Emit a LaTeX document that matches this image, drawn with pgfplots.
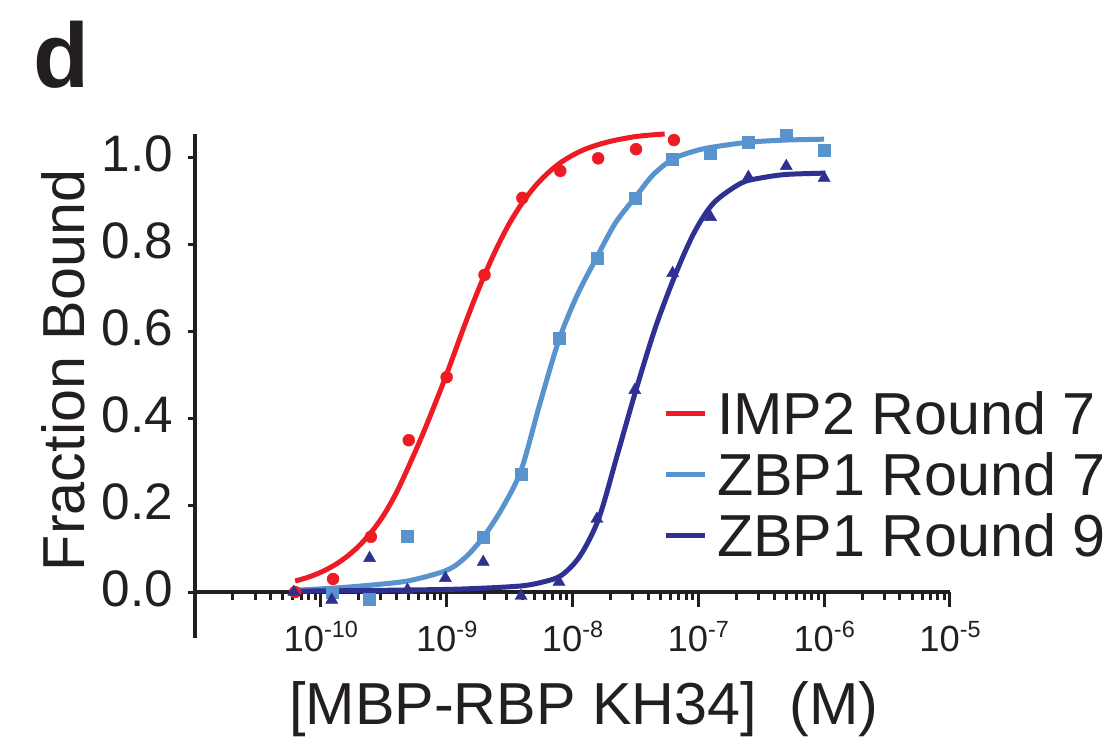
\documentclass[border=0pt]{standalone}
\usepackage{fontspec}
\setmainfont{Liberation Sans}
\usepackage{pgfplots}
\pgfplotsset{compat=1.18}
\definecolor{cred}{RGB}{237,28,36}
\definecolor{clight}{RGB}{88,147,205}
\definecolor{cdark}{RGB}{46,49,146}
\definecolor{ink}{RGB}{35,31,32}
\newcommand\xt[1]{10\raisebox{14bp}{\fontsize{23.5}{23.5}\selectfont #1}}

\begin{document}
\begin{tikzpicture}
\useasboundingbox (0,0) rectangle (1119bp,-737bp);
\node[anchor=base west, inner sep=0pt, font=\fontsize{92}{92}\selectfont\bfseries, text=ink] at (33bp,-87bp) {d};
\begin{axis}[
  at={(195bp,-637.7bp)}, anchor=south west,
  scale only axis, width=755bp, height=503.3bp,
  xmode=log, xmin=1e-11, xmax=1e-5,
  ymin=-0.105, ymax=1.052,
  clip=false,
  axis x line=middle, axis y line=left,
  axis line style={-, line width=3.6bp, color=ink},
  tick align=outside,
  tick style={line width=3bp, color=ink},
  major tick length=15bp, minor tick length=8bp,
  ytick style={/pgfplots/major tick length=7bp},
  xtick={1e-10,1e-9,1e-8,1e-7,1e-6,1e-5},
  xticklabels={\xt{-10},\xt{-9},\xt{-8},\xt{-7},\xt{-6},\xt{-5}},
  minor xtick={2e-11,3e-11,4e-11,5e-11,6e-11,7e-11,8e-11,9e-11,
    2e-10,3e-10,4e-10,5e-10,6e-10,7e-10,8e-10,9e-10,
    2e-9,3e-9,4e-9,5e-9,6e-9,7e-9,8e-9,9e-9,
    2e-8,3e-8,4e-8,5e-8,6e-8,7e-8,8e-8,9e-8,
    2e-7,3e-7,4e-7,5e-7,6e-7,7e-7,8e-7,9e-7,
    2e-6,3e-6,4e-6,5e-6,6e-6,7e-6,8e-6,9e-6},
  ytick={0,0.2,0.4,0.6,0.8,1},
  /pgf/number format/fixed, /pgf/number format/fixed zerofill,
  /pgf/number format/precision=1, /pgf/number format/assume math mode=true,
  yticklabel style={font=\fontsize{51.5}{51.5}\selectfont, text=ink, inner sep=0pt, anchor=east, xshift=-7bp, yshift=3.5bp},
  xticklabel style={font=\fontsize{36.5}{36.5}\selectfont, text=ink, inner sep=0pt, anchor=north, yshift=-14bp},
  hide obscured y ticks=false,
  xlabel={[MBP-RBP KH34]\ \ (M)},
  ylabel={Fraction Bound},
  every axis x label/.style={at={(axis description cs:0.5152,-0.1734)}, anchor=base, inner sep=0pt, font=\fontsize{59.5}{59.5}\selectfont, text=ink},
  every axis y label/.style={at={(axis description cs:-0.1744,0.5319)}, anchor=center, rotate=90, inner sep=0pt, font=\fontsize{59.5}{59.5}\selectfont, text=ink},
  legend style={at={(axis description cs:0.6199,0.4922)}, anchor=north west, draw=none, fill=none, inner sep=0pt, outer sep=0pt, row sep=16bp, column sep=10bp, font=\fontsize{59.5}{59.5}\selectfont, text=ink, nodes={inner sep=0pt, text height=45bp, text depth=0bp}},
  legend cell align=left,
  legend image code/.code={\draw[#1, line width=5bp] (0bp,-1bp) -- (39bp,-1bp);},
]
% fitted curves
\addplot[cred, line width=5bp, smooth, no markers] table {
x y
6.25e-11 0.0252
7.943e-11 0.0341
1e-10 0.0455
1.259e-10 0.0604
1.585e-10 0.0799
1.995e-10 0.105
2.512e-10 0.137
3.162e-10 0.177
3.981e-10 0.228
5.012e-10 0.290
6.310e-10 0.356
7.943e-10 0.427
1e-9 0.501
1.259e-9 0.580
1.585e-9 0.657
1.995e-9 0.728
2.512e-9 0.792
3.162e-9 0.848
3.981e-9 0.894
5.012e-9 0.932
6.310e-9 0.962
7.943e-9 0.986
1e-8 1.004
1.259e-8 1.018
1.585e-8 1.028
1.995e-8 1.036
2.512e-8 1.042
3.162e-8 1.047
3.981e-8 1.050
5.4e-8 1.053
};
\addlegendentry{IMP2 Round 7}
\addplot[clight, line width=5bp, smooth, no markers] table {
x y
6.104e-11 0.004
1.259e-10 0.009
2.512e-10 0.016
5.012e-10 0.026
1e-9 0.050
1.413e-9 0.080
1.953e-9 0.126
2.754e-9 0.192
3.906e-9 0.280
5.495e-9 0.432
7.813e-9 0.580
1.096e-8 0.684
1.563e-8 0.770
2.188e-8 0.848
3.125e-8 0.906
4.365e-8 0.959
6.25e-8 0.995
8.913e-8 1.012
1.25e-7 1.022
2.5e-7 1.034
5e-7 1.039
1e-6 1.041
};
\addlegendentry{ZBP1 Round 7}
\addplot[cdark, line width=5bp, smooth, no markers] table {
x y
6.104e-11 0.002
3.162e-10 0.004
1e-9 0.006
1.995e-9 0.009
3.906e-9 0.014
5.623e-9 0.022
8.128e-9 0.038
1.148e-8 0.083
1.622e-8 0.170
2.296e-8 0.320
3.192e-8 0.464
4.571e-8 0.609
6.637e-8 0.733
9.333e-8 0.828
1.33e-7 0.895
2.188e-7 0.940
3.162e-7 0.952
5.012e-7 0.960
1.023e-6 0.963
};
\addlegendentry{ZBP1 Round 9}
% data points
\addplot[only marks, mark=*, mark size=6bp, color=cred, mark options={draw=none}, forget plot] table {
x y
6.25e-11 0.0
1.25e-10 0.030
2.5e-10 0.127
5e-10 0.349
1e-9 0.494
2e-9 0.729
4e-9 0.906
8e-9 0.968
1.6e-8 0.997
3.2e-8 1.018
6.4e-8 1.039
};
\addplot[only marks, mark=square*, mark size=6bp, color=clight, mark options={draw=none}, forget plot] table {
x y
1.221e-10 0.0
2.441e-10 -0.017
4.883e-10 0.129
1.953e-9 0.126
3.906e-9 0.272
7.813e-9 0.584
1.563e-8 0.768
3.125e-8 0.906
6.25e-8 0.995
1.25e-7 1.009
2.5e-7 1.035
5e-7 1.051
1e-6 1.016
};
\addplot[only marks, mark=triangle*, mark size=7bp, color=cdark, mark options={draw=none}, forget plot] table {
x y
6.104e-11 0.0
1.221e-10 -0.018
2.441e-10 0.078
4.883e-10 0.005
9.766e-10 0.032
1.953e-9 0.069
3.906e-9 -0.009
7.813e-9 0.023
1.563e-8 0.168
3.125e-8 0.464
6.25e-8 0.733
1.25e-7 0.862
2.5e-7 0.954
5e-7 0.979
1e-6 0.952
};
\end{axis}
\end{tikzpicture}
\end{document}
